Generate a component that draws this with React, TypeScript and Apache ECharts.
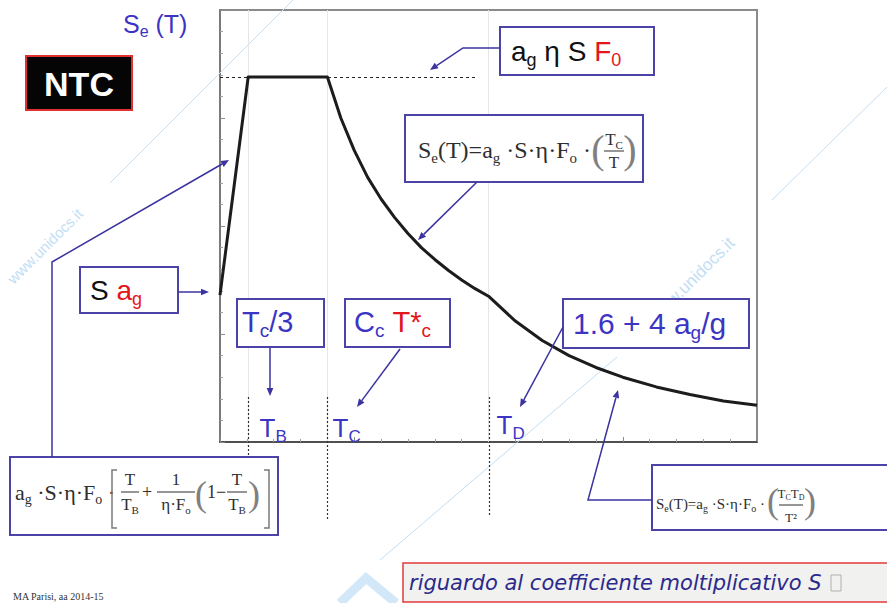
import { useEffect, useRef } from "react";
import * as echarts from "echarts";

// Elastic response spectrum Se(T) sampled at selected periods T (s)
const periods = [0, 0.21, 0.8, 0.9, 1.0, 1.1, 1.2, 1.3, 1.4, 1.5, 1.6, 1.7, 1.8, 1.9, 2.0, 2.2, 2.4, 2.6, 2.8, 3.0, 3.25, 3.5, 3.75, 4.0];
const spectrum = [1.36, 3.38, 3.38, 3.0, 2.7, 2.45, 2.25, 2.08, 1.93, 1.8, 1.69, 1.59, 1.5, 1.42, 1.35, 1.12, 0.94, 0.8, 0.69, 0.6, 0.51, 0.44, 0.38, 0.34];

// Corner periods T_B, T_C, T_D
const cornerNames = ["B", "C", "D"];
const cornerPeriods = [0.21, 0.8, 2.0];
const plateauLevel = 3.38;
const plateauGuideEnd = 1.92;

// Axis ranges (no tick labels are drawn)
const axisMin = 0;
const axisMax = 4;
const axisStep = 1;

const BLUE = "#3b34c4";
const FRAME = "#4b43a8";
const ARROW = "#3a33a0";
const RED = "#e3161c";
const INK = "#2e2e2e";
const WM = "#c2def4";
const SANS = "'Liberation Sans', Arial, sans-serif";
const SERIF = "'Liberation Serif', 'Times New Roman', serif";

type El = Record<string, any>;

function richStyles(size: number, color: string, family: string, weight = "normal") {
  const sub = Math.round(size * 0.64);
  const base = { fontFamily: family, fontWeight: weight };
  const lh = Math.round(size * 1.25);
  return {
    n: { ...base, fontSize: size, fill: color, lineHeight: lh },
    s: { ...base, fontSize: sub, fill: color, lineHeight: sub, verticalAlign: "bottom" },
    p: { ...base, fontSize: sub, fill: color, lineHeight: sub, verticalAlign: "top" },
    r: { ...base, fontSize: size, fill: RED, lineHeight: lh },
    rs: { ...base, fontSize: sub, fill: RED, lineHeight: sub, verticalAlign: "bottom" },
    k: { ...base, fontSize: size, fill: "#111111", lineHeight: lh },
  };
}

function label(x: number, y: number, text: string, size: number, color: string, family = SANS, align = "left", weight = "normal"): El {
  return {
    type: "text",
    x,
    y,
    z: 20,
    style: {
      text,
      rich: richStyles(size, color, family, weight),
      align,
      verticalAlign: "middle",
      textAlign: align,
      textVerticalAlign: "middle",
    },
  };
}

function box(x: number, y: number, w: number, h: number, stroke = FRAME, fill = "#ffffff", lw = 2): El {
  return { type: "rect", z: 15, shape: { x, y, width: w, height: h }, style: { fill, stroke, lineWidth: lw } };
}

function arrow(pts: number[][], color = ARROW, lw = 1.5, head = 8): El[] {
  const [x1, y1] = pts[pts.length - 2];
  const [x2, y2] = pts[pts.length - 1];
  const a = Math.atan2(y2 - y1, x2 - x1);
  const c = Math.cos(a);
  const s = Math.sin(a);
  const bx = x2 - head * c;
  const by = y2 - head * s;
  const w = head * 0.42;
  const line = pts.slice(0, -1).concat([[bx, by]]);
  return [
    { type: "polyline", z: 18, shape: { points: line }, style: { stroke: color, lineWidth: lw, fill: "none" } },
    {
      type: "polygon",
      z: 18,
      shape: { points: [[x2, y2], [bx - w * s, by + w * c], [bx + w * s, by - w * c]] },
      style: { fill: color },
    },
  ];
}

function frac(cx: number, cy: number, num: string, den: string, size: number, half: number, gap: number): El[] {
  return [
    label(cx, cy - gap, num, size, INK, SERIF, "center"),
    { type: "line", z: 20, shape: { x1: cx - half, y1: cy, x2: cx + half, y2: cy }, style: { stroke: INK, lineWidth: 1 } },
    label(cx, cy + gap, den, size, INK, SERIF, "center"),
  ];
}

function paren(cx: number, cy: number, ch: string, size: number): El {
  return label(cx, cy, `{n|${ch}}`, size, "#808080", SERIF, "center");
}

function bracket(x: number, y1: number, y2: number, dir: number): El {
  return {
    type: "polyline",
    z: 20,
    shape: { points: [[x + 5 * dir, y1], [x, y1], [x, y2], [x + 5 * dir, y2]] },
    style: { stroke: "#7a7a7a", lineWidth: 1.5, fill: "none" },
  };
}

function watermark(): El[] {
  const wmText = (x: number, y: number, size: number): El => ({
    type: "text",
    x,
    y,
    z: 2,
    rotation: Math.PI / 4,
    style: {
      text: "www.unidocs.it",
      fill: WM,
      fontSize: size,
      fontFamily: SANS,
      align: "center",
      verticalAlign: "middle",
      textAlign: "center",
      textVerticalAlign: "middle",
    },
  });
  return [
    { type: "line", z: 2, shape: { x1: 110, y1: 183, x2: 293, y2: 0 }, style: { stroke: WM, lineWidth: 1 } },
    { type: "line", z: 2, shape: { x1: 772, y1: 200, x2: 887, y2: 87 }, style: { stroke: WM, lineWidth: 1 } },
    { type: "line", z: 2, shape: { x1: 380, y1: 560, x2: 617, y2: 357 }, style: { stroke: WM, lineWidth: 1 } },
    {
      type: "polyline",
      z: 2,
      shape: { points: [[340, 603], [366, 578], [396, 603]] },
      style: { stroke: "#d2e8f8", lineWidth: 9, fill: "none" },
    },
    wmText(45, 246, 15),
    wmText(692, 280, 17),
  ];
}

function buildGraphics(toX: (t: number) => number): El[] {
  const els: El[] = [...watermark()];

  // Ordinate title
  els.push(label(123, 24, "{n|S}{s|e}{n| (T)}", 25, BLUE));

  // NTC badge
  els.push(box(26, 56, 106, 54, "#e03030", "#050505", 2));
  els.push({
    type: "text",
    x: 79,
    y: 84,
    z: 20,
    style: {
      text: "NTC",
      fill: "#ffffff",
      fontSize: 34,
      fontWeight: "bold",
      fontFamily: SANS,
      align: "center",
      verticalAlign: "middle",
      textAlign: "center",
      textVerticalAlign: "middle",
    },
  });

  // Plateau value
  els.push(box(500, 27, 154, 48));
  els.push(label(511, 51, "{k|a}{s|g}{k| η S }{r|F}{rs|0}", 28, "#111111"));
  els.push(...arrow([[500, 48], [463, 48], [430, 70]]));

  // Branch T_C <= T < T_D
  els.push(box(405, 115, 238, 67));
  els.push(label(591, 150, "{n|S}{s|e}{n|(T)=a}{s|g}{n| ·S·η·F}{s|o}{n| ·}", 24, INK, SERIF, "right"));
  els.push(paren(598, 149, "(", 40));
  els.push(...frac(614, 151, "{n|T}{s|C}", "{n|T}", 17, 10, 11.5));
  els.push(paren(630, 149, ")", 40));
  els.push(...arrow([[477, 182], [418, 240]]));

  // Value at T = 0
  els.push(box(80, 267, 98, 46));
  els.push(label(90, 290, "{k|S }{r|a}{rs|g}", 28, "#111111"));
  els.push(...arrow([[178, 292], [209, 292]]));

  // Branch 0 <= T < T_B
  els.push(box(10, 457, 268, 78));
  els.push(label(15, 492, "{n|a}{s|g}{n| ·S·η·F}{s|o}{n| ·}", 22, INK, SERIF));
  els.push(bracket(112, 470, 528, 1));
  els.push(...frac(130, 492, "{n|T}", "{n|T}{s|B}", 17, 9, 12.5));
  els.push(label(147, 492, "{n|+}", 18, INK, SERIF, "center"));
  els.push(...frac(176, 492, "{n|1}", "{n|η·F}{s|o}", 17, 19, 12.5));
  els.push(paren(201, 494, "(", 36));
  els.push(label(207, 492, "{n|1−}", 18, INK, SERIF));
  els.push(...frac(237, 492, "{n|T}", "{n|T}{s|B}", 17, 10, 12.5));
  els.push(paren(254, 494, ")", 36));
  els.push(bracket(269, 470, 528, -1));
  els.push(...arrow([[52, 457], [52, 262], [229, 160]]));

  // T_B definition
  els.push(box(237, 299, 87, 48));
  els.push(label(242, 322, "{n|T}{s|c}{n|/3}", 29, BLUE));
  els.push(...arrow([[270, 348], [270, 396]]));

  // T_C definition
  els.push(box(345, 299, 105, 48));
  els.push(label(354, 322, "{n|C}{s|c}{n| }{r|T*}{rs|c}", 29, BLUE));
  els.push(...arrow([[400, 349], [357, 407]]));

  // T_D definition
  els.push(box(563, 299, 186, 49));
  els.push(label(573, 323, "{n|1.6 + 4 a}{s|g}{n|/g}", 30, BLUE));
  els.push(...arrow([[563, 327], [520, 407]]));

  // Branch T >= T_D
  els.push(box(652, 465, 245, 65));
  els.push(label(765, 504, "{n|S}{s|e}{n|(T)=a}{s|g}{n| ·S·η·F}{s|o}{n| ·}", 15, INK, SERIF, "right"));
  els.push(paren(773, 501, "(", 36));
  els.push(...frac(791, 505, "{n|T}{s|C}{n|T}{s|D}", "{n|T²}", 13, 12, 12));
  els.push(paren(810, 501, ")", 36));
  els.push(...arrow([[652, 500], [588, 500], [618, 390]]));

  // Corner periods: dotted guides below the curve and their labels
  const guideEnds = [456, 520, 515];
  const labelOffsets = [11, 5, 7];
  const labelY = [428, 428, 425];
  cornerPeriods.forEach((t, i) => {
    const x = Math.round(toX(t)) + 0.5;
    els.push({
      type: "line",
      z: 12,
      shape: { x1: x, y1: 397, x2: x, y2: guideEnds[i] },
      style: { stroke: "#333333", lineWidth: 1.2, lineDash: [2, 2] },
    });
    els.push(label(x + labelOffsets[i], labelY[i], `{n|T}{s|${cornerNames[i]}}`, 26, BLUE));
  });

  // Footer note
  els.push({
    type: "text",
    x: 13,
    y: 596,
    z: 20,
    style: {
      text: "MA Parisi, aa 2014-15",
      fill: "#333333",
      fontSize: 10,
      fontFamily: SERIF,
      align: "left",
      verticalAlign: "middle",
      textAlign: "left",
      textVerticalAlign: "middle",
    },
  });

  // Bottom caption
  els.push(box(403, 563, 490, 39, "#e23a3a", "#f1f1ef", 1.5));
  els.push({
    type: "text",
    x: 409,
    y: 583,
    z: 20,
    style: {
      text: "riguardo al coefficiente moltiplicativo S",
      fill: "#2b2a8c",
      fontSize: 21,
      fontStyle: "italic",
      fontFamily: "'DejaVu Sans', sans-serif",
      align: "left",
      verticalAlign: "middle",
      textAlign: "left",
      textVerticalAlign: "middle",
    },
  });
  els.push({ type: "rect", z: 20, shape: { x: 831, y: 575, width: 10, height: 16 }, style: { fill: "none", stroke: "#b0b0b0", lineWidth: 1 } });

  return els;
}

export default function App() {
  const ref = useRef<HTMLDivElement>(null);

  useEffect(() => {
    document.body.style.margin = "0";
    const chart = echarts.init(ref.current!, undefined, { renderer: "svg" });

    const option = {
      animation: false,
      grid: {
        left: 220,
        top: 10,
        width: 537,
        height: 432,
        show: true,
        borderColor: "#8a8a8a",
        borderWidth: 2,
        backgroundColor: "transparent",
      },
      xAxis: {
        type: "value",
        min: axisMin,
        max: axisMax,
        interval: axisStep,
        axisLine: { show: true, onZero: false, lineStyle: { color: "#505050", width: 2 } },
        axisTick: { show: true, inside: true, length: 5, lineStyle: { color: "#8a8a8a" } },
        minorTick: { show: true, splitNumber: 5, length: 3, lineStyle: { color: "#a0a0a0" } },
        axisLabel: { show: false },
        splitLine: { show: false },
      },
      yAxis: {
        type: "value",
        min: axisMin,
        max: axisMax,
        interval: axisStep,
        axisLine: { show: true, onZero: false, lineStyle: { color: "#7a7a7a", width: 2 } },
        axisTick: { show: true, inside: true, length: 5, lineStyle: { color: "#8a8a8a" } },
        minorTick: { show: true, splitNumber: 5, length: 3, lineStyle: { color: "#a0a0a0" } },
        axisLabel: { show: false },
        splitLine: { show: false },
      },
      series: [
        {
          type: "line",
          data: periods.map((t, i) => [t, spectrum[i]]),
          symbol: "none",
          lineStyle: { color: "#1c1c1c", width: 3, join: "round" },
          z: 5,
          markLine: {
            silent: true,
            symbol: "none",
            label: { show: false },
            data: [
              [
                { coord: [0, plateauLevel], lineStyle: { color: "#222222", width: 1, type: [3, 3] } },
                { coord: [plateauGuideEnd, plateauLevel] },
              ],
              ...cornerPeriods.map((t) => ({ xAxis: t, lineStyle: { color: "#e6e6e6", width: 1, type: "solid" } })),
            ],
          },
        },
      ],
    };

    chart.setOption(option);
    const toX = (t: number) => (chart.convertToPixel({ gridIndex: 0 }, [t, 0]) as number[])[0];
    chart.setOption({ graphic: { elements: buildGraphics(toX) } });

    return () => chart.dispose();
  }, []);

  return <div ref={ref} style={{ width: 887, height: 603 }} />;
}
